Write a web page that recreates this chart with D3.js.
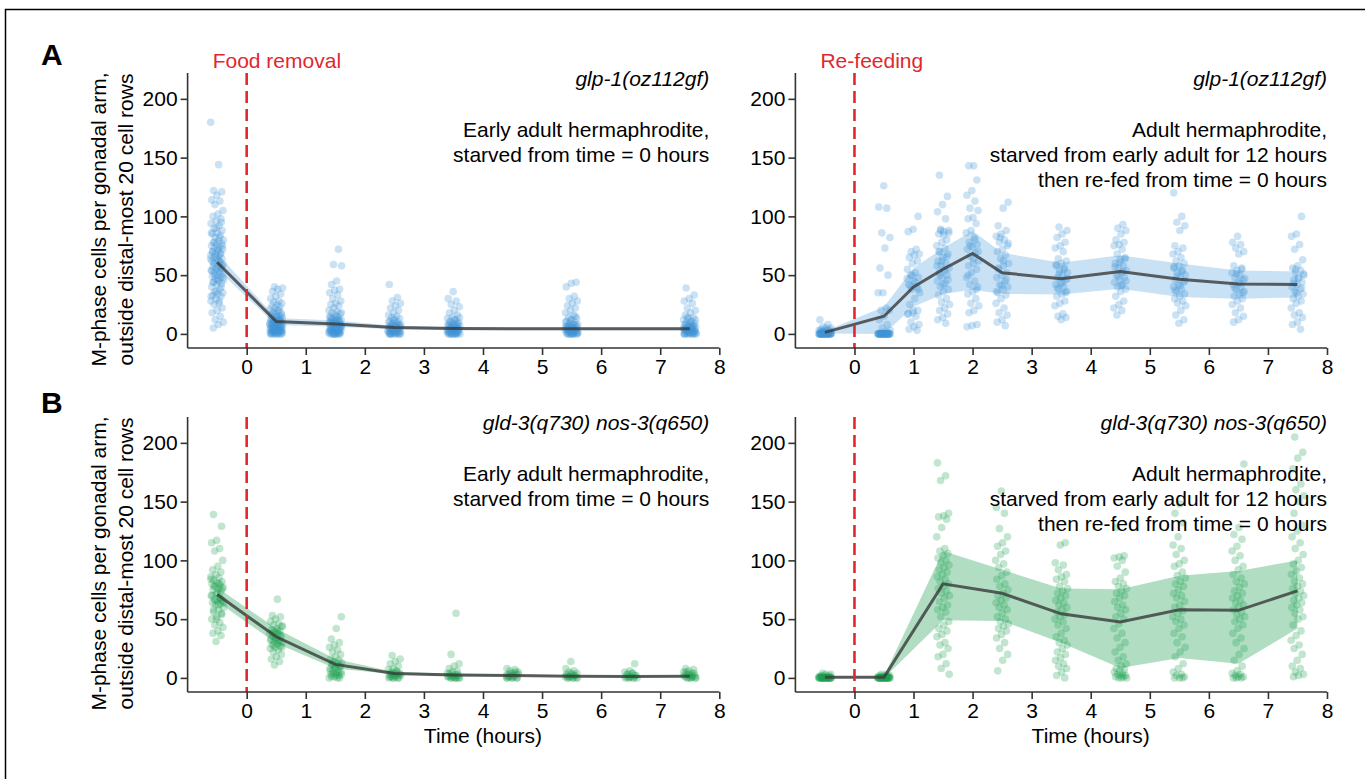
<!DOCTYPE html>
<html>
<head>
<meta charset="utf-8">
<script src="https://cdn.jsdelivr.net/npm/d3@7"></script>
<style>
  html, body { margin: 0; padding: 0; background: #fff; }
  svg { display: block; }
  text { font-family: "Liberation Sans", Arial, Helvetica, sans-serif; }
</style>
</head>
<body>
<svg id="chart" width="1365" height="779"></svg>
<script>
// ---------------- data ----------------
// Panel A, left: glp-1(oz112gf), starved from time 0
const timesA1 = [-0.5, 0.5, 1.5, 2.5, 3.5, 5.5, 7.5];
const meanA1 = [61, 10.5, 8.5, 5.5, 4.5, 4.3, 4.3];
const lowA1 = [55, 7.5, 6, 4, 3.2, 3, 3];
const highA1 = [68.5, 13.5, 11.5, 7, 5.8, 5.7, 5.7];
const pointsA1 = [
  [180, 144, 122, 121, 118, 114, 113, 110, 105, 102, 100, 98, 96, 94, 92, 90, 88, 86, 85, 84, 82, 80, 79, 78, 77, 76, 75, 74, 73, 72, 71, 70, 69, 68, 67, 66, 65, 64, 63, 62, 61, 60, 59, 58, 57, 56, 55, 54, 53, 52, 51, 50, 49, 48, 47, 46, 45, 44, 43, 42, 40, 38, 36, 35, 34, 33, 32, 30, 28, 26, 25, 22, 20, 18, 15, 12, 10, 8, 5,
   95, 90, 86, 82, 78, 75, 72, 70, 68, 66, 64, 62, 60, 58, 56, 54, 52, 50, 48, 46, 44, 40, 36, 32, 28],
  [40, 39, 38, 36, 34, 32, 30, 28, 27, 26, 25, 24, 23, 22, 21, 20, 19, 18, 17, 16, 15, 15, 14, 14, 13, 13, 12, 12, 11, 11, 10, 10, 9, 9, 9, 8, 8, 8, 7, 7, 7, 6, 6, 6, 5, 5, 5, 4, 4, 4, 3, 3, 3, 2, 2, 2, 1, 1, 1, 0, 0, 0,
   20, 18, 16, 14, 12, 11, 10, 9, 8, 7, 6, 5, 5, 4, 4, 3, 3, 2, 2, 1, 1, 0, 0, 0, 0, 0, 12, 10, 8, 6, 4, 2],
  [72, 59, 58, 45, 42, 38, 37, 35, 33, 30, 28, 26, 25, 24, 22, 20, 19, 18, 17, 16, 15, 14, 13, 12, 12, 11, 11, 10, 10, 9, 9, 8, 8, 7, 7, 6, 6, 6, 5, 5, 5, 4, 4, 4, 3, 3, 3, 2, 2, 2, 1, 1, 1, 0, 0, 0, 0,
   18, 15, 13, 11, 10, 9, 8, 7, 6, 5, 4, 3, 2, 1, 0, 0, 0, 0, 14, 12, 9, 7, 5, 3, 1, 0],
  [42, 31, 28, 26, 24, 22, 20, 18, 16, 15, 14, 13, 12, 11, 10, 9, 8, 8, 7, 7, 6, 6, 5, 5, 5, 4, 4, 4, 3, 3, 3, 2, 2, 2, 1, 1, 1, 0, 0, 0, 0,
   12, 10, 9, 8, 7, 6, 5, 4, 3, 2, 1, 0, 0, 0, 0, 6, 4, 2, 1, 0],
  [36, 30, 28, 25, 23, 20, 18, 16, 14, 13, 12, 11, 10, 9, 8, 8, 7, 7, 6, 6, 5, 5, 4, 4, 4, 3, 3, 3, 2, 2, 2, 1, 1, 1, 0, 0, 0, 0,
   14, 12, 10, 9, 8, 7, 6, 5, 4, 3, 2, 1, 0, 0, 0, 0, 5, 3, 1, 0],
  [44, 43, 40, 32, 30, 28, 26, 24, 22, 20, 18, 16, 14, 13, 12, 11, 10, 9, 8, 8, 7, 7, 6, 6, 5, 5, 4, 4, 4, 3, 3, 3, 2, 2, 2, 1, 1, 1, 0, 0, 0, 0,
   15, 12, 10, 8, 7, 6, 5, 4, 3, 2, 1, 0, 0, 0, 0, 6, 4, 2, 1, 0],
  [39, 33, 30, 28, 26, 22, 20, 18, 16, 14, 13, 12, 11, 10, 9, 8, 8, 7, 7, 6, 6, 5, 5, 4, 4, 4, 3, 3, 3, 2, 2, 2, 1, 1, 1, 0, 0, 0, 0,
   14, 12, 10, 8, 7, 6, 5, 4, 3, 2, 1, 0, 0, 0, 0, 6, 4, 2, 1, 0]
];

// Panel A, right: glp-1(oz112gf), starved 12 h then re-fed from time 0
const timesA2 = [-0.5, 0.5, 1, 1.5, 2, 2.5, 3.5, 4.5, 5.5, 6.5, 7.5];
const meanA2 = [1.3, 15, 40, 55, 68.5, 52, 47, 53, 46.5, 42.5, 42];
const lowA2 = [0.3, 0, 23, 34, 37.5, 34, 33.5, 38.5, 31.5, 30, 31];
const highA2 = [2.5, 23, 56, 73, 87.5, 69, 60.5, 67, 60, 54, 53];
const pointsA2 = [
  [12, 8, 6, 5, 5, 4, 4, 3, 3, 3, 2, 2, 2, 2, 1, 1, 1, 1, 1, 1, 0, 0, 0, 0, 0, 0, 0, 0, 0, 0, 0, 0, 0, 0, 0, 0, 0, 0, 0, 0, 2, 1, 0, 0, 0, 0, 0, 0, 0, 0],
  [126, 108, 107, 86, 82, 73, 56, 50, 35, 35, 22, 20, 20, 15, 12, 8, 5, 3, 2, 1, 1, 0, 0, 0, 0, 0, 0, 0, 0, 0, 0, 0, 0, 0, 0, 0, 0, 0, 0, 0, 0, 0, 0, 0, 0, 0, 0, 0, 0, 0],
  [100, 89, 87, 72, 70, 68, 67, 65, 62, 60, 55, 52, 50, 48, 45, 42, 40, 38, 35, 30, 25, 20, 18, 17, 15, 10, 8, 6, 4, 3, 50, 47, 44, 41, 38, 20, 17],
  [135, 117, 110, 104, 98, 89, 88, 87, 85, 80, 78, 75, 73, 70, 68, 65, 62, 60, 58, 56, 55, 52, 50, 48, 45, 43, 40, 38, 36, 33, 30, 27, 25, 22, 20, 17, 14, 12, 9, 88, 86, 84, 70, 66, 62, 58, 54, 50, 46, 42],
  [143, 143, 131, 122, 118, 113, 107, 105, 99, 98, 94, 88, 86, 82, 78, 76, 74, 72, 69, 66, 62, 60, 58, 55, 52, 48, 45, 42, 40, 36, 34, 30, 26, 24, 20, 18, 8, 7, 6, 80, 75, 70, 64, 50, 38],
  [112, 107, 92, 88, 85, 83, 80, 78, 75, 72, 70, 67, 64, 60, 58, 55, 52, 50, 48, 45, 42, 40, 38, 35, 33, 30, 26, 22, 18, 16, 12, 10, 7, 82, 77, 62, 56, 46, 41, 36],
  [91, 88, 85, 82, 78, 75, 73, 70, 64, 62, 60, 58, 56, 54, 52, 50, 48, 46, 44, 42, 40, 38, 36, 34, 32, 28, 26, 24, 17, 15, 14, 12, 59, 55, 51, 47, 43, 39, 35],
  [93, 90, 88, 85, 80, 78, 76, 75, 72, 68, 65, 63, 60, 58, 56, 54, 52, 50, 48, 46, 44, 42, 40, 38, 36, 32, 28, 25, 22, 20, 16, 64, 61, 57, 53, 49, 45, 41],
  [120, 100, 95, 92, 88, 75, 73, 70, 68, 65, 62, 60, 58, 56, 54, 52, 50, 48, 46, 44, 42, 40, 38, 36, 34, 32, 30, 28, 26, 24, 20, 16, 12, 9, 57, 53, 49, 45, 41, 37],
  [83, 78, 76, 73, 70, 68, 58, 56, 54, 52, 50, 48, 46, 44, 42, 40, 38, 36, 34, 32, 30, 28, 25, 22, 18, 15, 12, 10, 55, 51, 47, 43, 39, 35],
  [100, 85, 83, 76, 72, 63, 58, 56, 54, 52, 50, 48, 46, 44, 42, 40, 38, 36, 34, 32, 30, 28, 26, 22, 18, 16, 14, 10, 8, 4, 55, 51, 47, 43, 39, 35]
];

// Panel B, left: gld-3(q730) nos-3(q650), starved from time 0
const timesB1 = [-0.5, 0.5, 1.5, 2.5, 3.5, 4.5, 5.5, 6.5, 7.5];
const meanB1 = [71, 35, 11.5, 3.8, 2.5, 2, 1.5, 1.2, 1.5];
const lowB1 = [65, 29.5, 8, 3, 1.5, 1.3, 0.9, 0.6, 0.9];
const highB1 = [77, 42, 16, 5, 3.8, 2.8, 2.3, 1.9, 2.2];
const pointsB1 = [
  [139, 129, 117, 115, 110, 108, 100, 95, 92, 90, 88, 86, 85, 83, 82, 81, 80, 79, 78, 77, 76, 75, 74, 72, 70, 68, 67, 66, 65, 64, 63, 62, 60, 58, 56, 54, 52, 50, 47, 45, 43, 40, 38, 36, 31,
   84, 80, 78, 76, 72, 70, 68, 66, 64, 62, 58, 55, 50],
  [67, 53, 52, 50, 48, 46, 45, 44, 42, 41, 40, 39, 38, 37, 36, 35, 34, 33, 32, 31, 30, 29, 28, 27, 26, 25, 24, 22, 20, 18, 16, 14, 11,
   44, 40, 38, 36, 34, 32, 30, 28, 26],
  [52, 42, 33, 30, 28, 26, 24, 22, 20, 18, 16, 15, 14, 13, 12, 11, 10, 9, 8, 7, 6, 5, 4, 3, 2, 1, 0, 0,
   12, 10, 8, 6, 5, 4, 3, 2, 1, 0],
  [19, 16, 14, 12, 10, 8, 7, 6, 5, 4, 4, 3, 3, 2, 2, 1, 1, 0, 0, 0, 5, 4, 3, 2, 1, 0, 0],
  [55, 20, 12, 10, 8, 6, 5, 4, 3, 2, 2, 1, 1, 0, 0, 0, 0, 4, 3, 2, 1, 0, 0, 0],
  [8, 7, 6, 5, 4, 3, 3, 2, 2, 1, 1, 0, 0, 0, 5, 4, 3, 2, 1, 0, 0, 0],
  [14, 8, 6, 5, 4, 3, 2, 2, 1, 1, 0, 0, 0, 4, 3, 2, 1, 0, 0, 0],
  [12, 6, 5, 4, 3, 2, 1, 1, 0, 0, 0, 4, 3, 2, 1, 0, 0, 0],
  [8, 7, 6, 5, 4, 3, 2, 2, 1, 1, 0, 0, 0, 5, 4, 3, 2, 1, 0, 0, 0]
];

// Panel B, right: gld-3(q730) nos-3(q650), starved 12 h then re-fed from time 0
const timesB2 = [-0.5, 0.5, 1.5, 2.5, 3.5, 4.5, 5.5, 6.5, 7.5];
const meanB2 = [0.6, 0.6, 80, 72, 54.5, 47.5, 58, 57.5, 74];
const lowB2 = [0, 0, 49, 48.5, 30, 8.5, 17, 12, 42];
const highB2 = [1.5, 1.5, 108, 92, 76, 75.5, 87, 91, 100];
const pointsB2 = [
  [4, 3, 3, 2, 2, 2, 1, 1, 1, 1, 1, 1, 0, 0, 0, 0, 0, 0, 0, 0, 0, 0, 0, 0, 0, 0, 0, 0, 0, 0, 0, 0, 0, 0, 0, 0],
  [3, 3, 2, 2, 2, 1, 1, 1, 1, 1, 1, 0, 0, 0, 0, 0, 0, 0, 0, 0, 0, 0, 0, 0, 0, 0, 0, 0, 0, 0, 0, 0, 0, 0, 0, 0],
  [183, 172, 168, 140, 138, 137, 135, 128, 120, 110, 108, 106, 104, 102, 100, 98, 96, 94, 92, 90, 88, 86, 84, 82, 80, 78, 76, 74, 72, 70, 68, 65, 62, 60, 58, 56, 52, 48, 45, 42, 40, 37, 35, 30, 28, 25, 20, 18, 12, 8, 3],
  [159, 145, 140, 127, 120, 115, 112, 108, 105, 100, 97, 94, 90, 87, 84, 80, 78, 75, 72, 70, 68, 66, 64, 62, 60, 58, 55, 52, 50, 48, 46, 44, 42, 40, 37, 34, 30, 25, 20, 15, 6],
  [115, 113, 98, 96, 92, 88, 86, 84, 82, 78, 76, 74, 72, 70, 68, 66, 64, 62, 60, 58, 56, 54, 52, 50, 48, 45, 42, 38, 35, 32, 30, 28, 25, 22, 20, 17, 15, 12, 10, 8, 5, 2, 0],
  [128, 104, 103, 102, 100, 95, 90, 85, 82, 80, 78, 76, 74, 72, 70, 68, 65, 62, 60, 58, 55, 52, 50, 46, 42, 38, 34, 30, 26, 22, 18, 15, 12, 10, 8, 7, 6, 5, 4, 3, 2, 2, 1, 1, 0, 0, 0],
  [148, 140, 132, 120, 113, 110, 105, 100, 97, 95, 90, 87, 85, 82, 80, 78, 75, 72, 70, 68, 65, 62, 60, 57, 55, 52, 50, 48, 45, 42, 38, 35, 30, 26, 22, 18, 12, 8, 5, 3, 2, 1, 0, 0, 0],
  [182, 128, 122, 118, 112, 108, 104, 100, 95, 92, 88, 85, 82, 80, 77, 74, 72, 70, 68, 66, 64, 62, 60, 58, 56, 54, 52, 50, 48, 45, 42, 38, 34, 30, 25, 20, 15, 10, 6, 4, 3, 2, 1, 1, 0, 0, 0],
  [205, 192, 187, 178, 165, 160, 155, 150, 140, 130, 125, 120, 115, 110, 105, 100, 97, 94, 91, 88, 85, 82, 80, 78, 76, 74, 72, 70, 68, 66, 64, 62, 60, 58, 55, 52, 50, 45, 40, 36, 32, 28, 25, 20, 15, 10, 8, 5, 3, 2, 1]
];

const xTicks = [0, 1, 2, 3, 4, 5, 6, 7, 8];
const yTicks = [0, 50, 100, 150, 200];
const genotypeA = "glp-1(oz112gf)";
const genotypeB = "gld-3(q730) nos-3(q650)";
const starveLines = ["Early adult hermaphrodite,", "starved from time = 0 hours"];
const refeedLines = ["Adult hermaphrodite,", "starved from early adult for 12 hours", "then re-fed from time = 0 hours"];
const yLabelLines = ["M-phase cells per gonadal arm,", "outside distal-most 20 cell rows"];

// ---------------- drawing ----------------
const svg = d3.select("#chart");
const BLUE = "#3d94d6", GREEN = "#1b9e4f", RED = "#e0282e";

// frame around the figure
svg.append("rect").attr("x", 5.5).attr("y", 9.5).attr("width", 1400).attr("height", 800)
  .attr("fill", "none").attr("stroke", "#000").attr("stroke-width", 1.5);

const cols = [{ x0: 187.6, x1: 719.3 }, { x0: 795.4, x1: 1327 }];
const rows = [{ y0: 73, y1: 348 }, { y0: 417, y1: 692 }];

const panels = [
  { col: 0, row: 0, times: timesA1, mean: meanA1, low: lowA1, high: highA1, pts: pointsA1, color: BLUE,
    bandOpacity: 0.28, genotype: genotypeA, lines: starveLines, event: "Food removal", textRight: -10 },
  { col: 1, row: 0, times: timesA2, mean: meanA2, low: lowA2, high: highA2, pts: pointsA2, color: BLUE,
    bandOpacity: 0.28, genotype: genotypeA, lines: refeedLines, event: "Re-feeding", textRight: 0 },
  { col: 0, row: 1, times: timesB1, mean: meanB1, low: lowB1, high: highB1, pts: pointsB1, color: GREEN,
    bandOpacity: 0.34, genotype: genotypeB, lines: starveLines, event: null, textRight: -10 },
  { col: 1, row: 1, times: timesB2, mean: meanB2, low: lowB2, high: highB2, pts: pointsB2, color: GREEN,
    bandOpacity: 0.34, genotype: genotypeB, lines: refeedLines, event: null, textRight: 0 }
];

const FONT = 21;

panels.forEach((p, pi) => {
  const c = cols[p.col], r = rows[p.row];
  const x = d3.scaleLinear().domain([-1, 8]).range([c.x0, c.x1]);
  const y = d3.scaleLinear().domain([-12, 222]).range([r.y1, r.y0]);
  const g = svg.append("g");

  // confidence band
  const band = p.times.map((t, i) => ({ t, lo: p.low[i], hi: p.high[i] }));
  g.append("path").datum(band)
    .attr("fill", p.color).attr("fill-opacity", p.bandOpacity)
    .attr("d", d3.area().x(d => x(d.t)).y0(d => y(d.lo)).y1(d => y(d.hi)));

  // jittered individual gonads (deterministic low-discrepancy jitter)
  const dots = [];
  p.pts.forEach((vals, ti) => {
    vals.forEach((v, k) => {
      const u = ((k * 0.6180339887 + ti * 0.37 + pi * 0.11) % 1) - 0.5;
      dots.push({ t: p.times[ti], v, dx: u * 0.22 });
    });
  });
  g.append("g").selectAll("circle").data(dots).join("circle")
    .attr("cx", d => x(d.t + d.dx)).attr("cy", d => y(d.v)).attr("r", 3.8)
    .attr("fill", p.color).attr("fill-opacity", 0.27);

  // mean line
  g.append("path").datum(p.times.map((t, i) => ({ t, m: p.mean[i] })))
    .attr("fill", "none").attr("stroke", "#3a3a3a").attr("stroke-opacity", 0.8)
    .attr("stroke-width", 3)
    .attr("d", d3.line().x(d => x(d.t)).y(d => y(d.m)));

  // time-zero marker
  g.append("line").attr("x1", x(0)).attr("x2", x(0)).attr("y1", r.y0).attr("y2", r.y1)
    .attr("stroke", RED).attr("stroke-width", 2.6).attr("stroke-dasharray", "12,6");

  // axes
  const xAxis = g.append("g").attr("transform", `translate(0,${r.y1})`)
    .call(d3.axisBottom(x).tickValues(xTicks).tickFormat(d3.format("d")).tickSizeOuter(0).tickSize(7).tickPadding(4));
  const yAxis = g.append("g").attr("transform", `translate(${c.x0},0)`)
    .call(d3.axisLeft(y).tickValues(yTicks).tickFormat(d3.format("d")).tickSizeOuter(0).tickSize(7).tickPadding(3));
  [xAxis, yAxis].forEach(a => {
    a.select(".domain").attr("stroke", "#333").attr("stroke-width", 1.6);
    a.selectAll(".tick line").attr("stroke", "#333").attr("stroke-width", 1.6);
    a.selectAll(".tick text").attr("font-size", FONT).attr("fill", "#000")
      .attr("font-family", "'Liberation Sans', Arial, sans-serif");
  });
  // axis lines span the full domain
  xAxis.select(".domain").attr("d", `M${c.x0},0H${c.x1}`);
  yAxis.select(".domain").attr("d", `M0,${r.y1}V${r.y0}`);

  // annotations
  const tx = x(8) + p.textRight;
  g.append("text").attr("x", tx).attr("y", r.y0 + 13).attr("text-anchor", "end")
    .attr("font-size", FONT).attr("font-style", "italic").text(p.genotype);
  p.lines.forEach((ln, i) => {
    g.append("text").attr("x", tx).attr("y", r.y0 + 64 + i * 25).attr("text-anchor", "end")
      .attr("font-size", FONT).text(ln);
  });
  if (p.event) {
    g.append("text").attr("x", x(0) - 34).attr("y", r.y0 - 5)
      .attr("font-size", FONT).attr("fill", RED).text(p.event);
  }
  if (p.row === 1) {
    g.append("text").attr("x", x(4)).attr("y", 743).attr("text-anchor", "middle")
      .attr("font-size", FONT).text("Time (hours)");
  }
  if (p.col === 0) {
    const cy = (r.y0 + r.y1) / 2 + 9;
    yLabelLines.forEach((ln, i) => {
      g.append("text").attr("transform", `translate(${106 + i * 26.5},${cy}) rotate(-90)`)
        .attr("text-anchor", "middle").attr("font-size", FONT).text(ln);
    });
  }
});

// panel letters
[["A", 65], ["B", 413]].forEach(([t, yy]) => {
  svg.append("text").attr("x", 41).attr("y", yy).attr("font-size", 30).attr("font-weight", "bold").text(t);
});
</script>
</body>
</html>
